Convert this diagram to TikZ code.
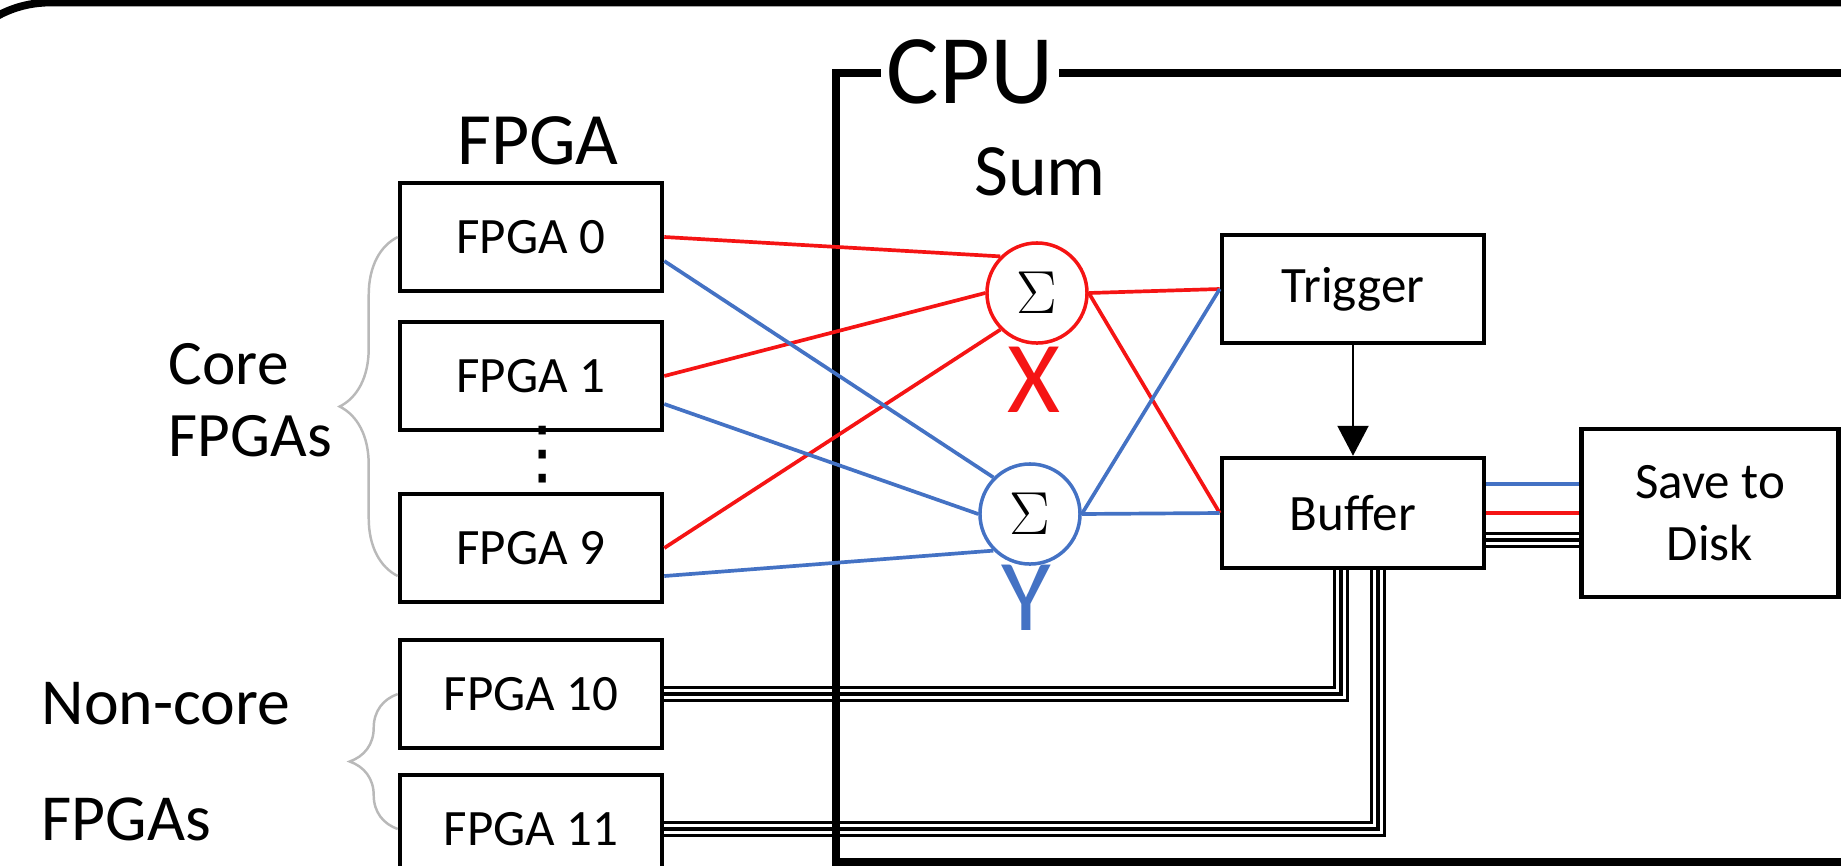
\documentclass[tikz,border=0pt]{standalone}
\usepackage{fontspec}
\setmainfont{Carlito}
\newfontfamily\symfont{DejaVu Sans}
\usetikzlibrary{arrows.meta,positioning,calc,decorations.pathreplacing}

\definecolor{sumred}{RGB}{245,20,20}
\definecolor{sumblue}{RGB}{68,114,196}
\definecolor{bracegray}{RGB}{185,185,185}

\begin{document}
\begin{tikzpicture}[x=0.01cm, y=-0.01cm,
    box/.style={draw, line width=1.25pt, minimum width=2.62cm, minimum height=1.08cm, inner sep=0pt, font=\fontsize{14.5}{17.7}\selectfont},
    big/.style={font=\fontsize{21}{25}\selectfont},
    sumnode/.style={circle, draw, line width=1pt, minimum size=1.0cm, inner sep=0pt, font=\fontsize{18}{20}\selectfont},
    wire/.style={line width=1.05pt},
    triple/.style={draw=black, line width=4.3pt, postaction={draw=white, line width=2.6pt}, postaction={draw=black, line width=0.9pt}},
    grpbrace/.style={draw=bracegray, line width=0.7pt, decorate, decoration={brace, amplitude=#1}}]

            \useasboundingbox (0,0) rectangle (1841,866);
            \clip (0,0) rectangle (1841,866);

            % outer frame
            \draw[line width=2.2pt, rounded corners=1.1cm] (-60,900) -- (-60,2.5) -- (1900,2.5);

            % FPGA column
            \node[big] (fpgahead) at (538,141) {FPGA};
            \node[box] (f0) at (531,237) {FPGA 0};
            \node[box] (f1) at (531,376) {FPGA 1};
            \node[font=\symfont\fontsize{20}{22}\selectfont, inner sep=0pt] (dots) at (543,455) {⋮};
            \node[box] (f9) at (531,548) {FPGA 9};
            \node[box] (f10) at (531,694) {FPGA 10};
            \node[box] (f11) at (531,829) {FPGA 11};

            % groups
            \draw[grpbrace=0.58cm] ([yshift=-0.28cm]f9.west) -- (f0.west);
            \draw[grpbrace=0.48cm] (f11.west) -- (f10.west);
            \node[anchor=west, align=left, inner sep=0pt, font=\fontsize{18}{20.5}\selectfont] (coretxt) at (168,400) {Core\\FPGAs};
            \node[anchor=west, align=left, inner sep=0pt, font=\fontsize{18.7}{33}\selectfont] (noncoretxt) at (41,762) {Non-core\\FPGAs};

            % CPU side
            \node[big] (sumhead) at (1040,172) {Sum};
            \node[sumnode, draw=sumred] (sx) at (1037,293) {$\Sigma$};
            \node[sumnode, draw=sumblue] (sy) at (1030,514) {$\Sigma$};
            \node[text=sumred, font=\fontsize{29}{32}\selectfont] (xlab) at (1034,380) {X};
            \node[text=sumblue, font=\fontsize{29}{32}\selectfont] (ylab) at (1026,598) {Y};
            \node[box] (trig) at (1353,289) {Trigger};
            \node[box, minimum height=1.1cm] (buf) at (1353,513) {Buffer};
            \node[box, minimum width=2.57cm, minimum height=1.68cm, align=center] (disk) at (1710,513) {Save to\\Disk};

            % raw data from non-core FPGAs
            \coordinate (d1) at ([xshift=-0.12cm]buf.south);
            \coordinate (d2) at ([xshift=0.25cm]buf.south);
            \draw[triple] (f10.east) -| (d1);
            \draw[triple] (f11.east) -| (d2);

            % CPU frame
            \draw[line width=2.1pt] (1900,73) -- (836,73) -- (836,862) -- (1900,862);
            \node[fill=white, inner xsep=0.06cm, inner ysep=0pt, font=\fontsize{28}{32}\selectfont] (cpu) at (970,72) {CPU};

            % X sum
            \draw[wire, sumred] (f0.east) -- (sx.135);
            \draw[wire, sumred] (f1.east) -- (sx.180);
            \draw[wire, sumred] (f9.east) -- (sx.225);
            % Y sum
            \draw[wire, sumblue] ([yshift=-0.24cm]f0.east) -- (sy.135);
            \draw[wire, sumblue] ([yshift=-0.28cm]f1.east) -- (sy.180);
            \draw[wire, sumblue] ([yshift=-0.28cm]f9.east) -- (sy.225);

            % to trigger and buffer
            \draw[wire, sumred] (sx.east) -- (trig.west);
            \draw[wire, sumred] (sx.east) -- (buf.west);
            \draw[wire, sumblue] (sy.east) -- (trig.west);
            \draw[wire, sumblue] (sy.east) -- (buf.west);
            \draw[-{Triangle[width=0.31cm,length=0.3cm]}, line width=0.6pt] (trig) -- (buf);

            % Buffer to disk
            \coordinate (bb) at ([yshift=0.29cm]buf.east);
            \coordinate (br) at (buf.east);
            \coordinate (bk) at ([yshift=-0.27cm]buf.east);
            \draw[wire, sumblue] (bb) -- (bb -| disk.west);
            \draw[wire, sumred] (br) -- (br -| disk.west);
            \draw[triple] (bk) -- (bk -| disk.west);
        \end{tikzpicture}
\end{document}
